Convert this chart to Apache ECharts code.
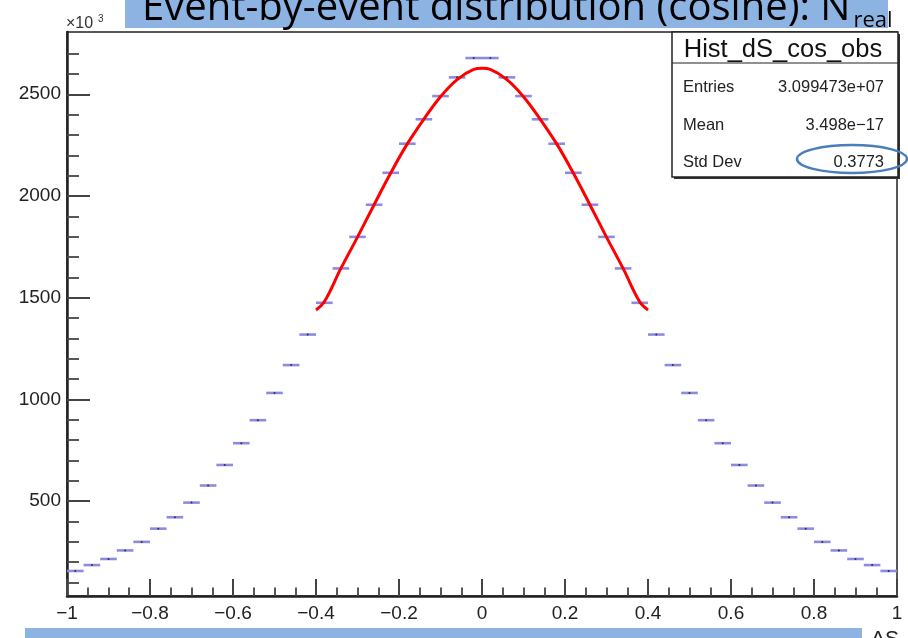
<!DOCTYPE html>
<html>
<head>
<meta charset="utf-8">
<title>Hist_dS_cos_obs</title>
<script src="https://cdn.jsdelivr.net/npm/echarts@6/dist/echarts.min.js"></script>
<style>
  html, body { margin: 0; padding: 0; background: #fff; }
  #chart { width: 908px; height: 638px; }
</style>
</head>
<body>
<div id="chart"></div>
<script>
// Histogram binning: 50 bins of width 0.04 over [-1, 1]
const binLow = -1;
const binWidth = 0.04;

// Bin contents (in units of 10^3 entries), left to right
const binValues = [
  157, 186, 216, 258, 300, 365, 421, 493, 577, 678,
  785, 898, 1032, 1169, 1319, 1475, 1644, 1799, 1957, 2114,
  2257, 2377, 2491, 2583, 2678,
  2678, 2583, 2491, 2377, 2257, 2114, 1957, 1799, 1644, 1475,
  1319, 1169, 1032, 898, 785, 678, 577, 493, 421, 365,
  300, 258, 216, 186, 157
];

// Fitted curve over [-0.4, 0.4]
const fitX = [-0.40, -0.38, -0.34, -0.30, -0.26, -0.22, -0.18, -0.14, -0.10, -0.06, -0.02, 0.00,
              0.02, 0.06, 0.10, 0.14, 0.18, 0.22, 0.26, 0.30, 0.34, 0.38, 0.40];
const fitY = [1440, 1480, 1644, 1798, 1957, 2113, 2256, 2378, 2488, 2572, 2622, 2628,
              2622, 2572, 2488, 2378, 2256, 2113, 1957, 1798, 1644, 1480, 1440];

// Axis ticks and labels
const yRange = [34, 2806];
const yMajorTicks = [500, 1000, 1500, 2000, 2500];
const yMinorTicks = [100, 200, 300, 400, 600, 700, 800, 900, 1100, 1200, 1300, 1400,
                     1600, 1700, 1800, 1900, 2100, 2200, 2300, 2400, 2600, 2700];

// Statistics box
const statsTitle = 'Hist_dS_cos_obs';
const statsLabels = ['Entries', 'Mean', 'Std Dev'];
const statsValues = ['3.099473e+07', '3.498e\u221217', '0.3773'];

const titleMain = 'Event-by-event distribution (cosine): N';
const titleSub = 'real';
const xTitle = '\u0394S';

const binData = binValues.map((v, i) => [+(binLow + (i + 0.5) * binWidth).toFixed(3), v]);
const fitData = fitX.map((x, i) => [x, fitY[i]]);

const labelFont = 'Liberation Sans, Arial, Helvetica, sans-serif';
const bannerBlue = '#8db3e2';

function measure(text, font) {
  const ctx = document.createElement('canvas').getContext('2d');
  ctx.font = font;
  return ctx.measureText(text).width;
}
const titleFontSize = 40;
const titleX = 142;
const titleW = measure(titleMain, titleFontSize + 'px "Open Sans"');

const chart = echarts.init(document.getElementById('chart'), null, { renderer: 'canvas' });

const statsLeft = 672, statsTop = 32, statsW = 226, statsH = 145;
const rowY = [87, 125, 162];

const graphics = [
  // top banner
  { type: 'rect', shape: { x: 125, y: 0, width: 763, height: 28 }, style: { fill: bannerBlue }, z: 10 },
  { type: 'text', x: titleX, y: 9, style: { text: titleMain, font: titleFontSize + 'px "Open Sans"', fill: '#000', verticalAlign: 'middle', align: 'left' }, z: 11 },
  { type: 'text', x: titleX + titleW + 3, y: 21, style: { text: titleSub, font: '22px "Open Sans"', fill: '#000', verticalAlign: 'middle', align: 'left' }, z: 11 },
  // bottom banner
  { type: 'rect', shape: { x: 25, y: 628, width: 837, height: 12 }, style: { fill: bannerBlue }, z: 10 },
  // x axis title
  { type: 'text', x: 899, y: 629, style: { text: xTitle, font: '21px ' + labelFont, fill: '#222', align: 'right', verticalAlign: 'top' }, z: 11 },
  // y axis multiplier
  { type: 'text', x: 66, y: 32, style: { text: '\u00d710', font: '16px ' + labelFont, fill: '#333', align: 'left', verticalAlign: 'bottom' }, z: 11 },
  { type: 'text', x: 98, y: 14, style: { text: '3', font: '10px ' + labelFont, fill: '#333', align: 'left', verticalAlign: 'top' }, z: 11 },
  // stats box shadow and frame
  { type: 'rect', shape: { x: statsLeft + 2, y: statsTop + 2, width: statsW, height: statsH }, style: { fill: '#333' }, z: 20 },
  { type: 'rect', shape: { x: statsLeft, y: statsTop, width: statsW, height: statsH }, style: { fill: '#fff', stroke: '#222', lineWidth: 1.5 }, z: 21 },
  { type: 'line', shape: { x1: statsLeft, y1: 63, x2: statsLeft + statsW, y2: 63 }, style: { stroke: '#222', lineWidth: 1.2 }, z: 22 },
  { type: 'text', x: statsLeft + statsW / 2 - 2, y: 50, style: { text: statsTitle, font: '25.5px ' + labelFont, fill: '#111', align: 'center', verticalAlign: 'middle' }, z: 22 },
  // highlight ring around the std dev value
  { type: 'ellipse', shape: { cx: 852, cy: 159, rx: 55, ry: 14 }, style: { fill: null, stroke: '#4a7dbb', lineWidth: 2.5 }, z: 25 }
];
statsLabels.forEach((lab, i) => {
  graphics.push({ type: 'text', x: statsLeft + 11, y: rowY[i], style: { text: lab, font: '16.5px ' + labelFont, fill: '#222', align: 'left', verticalAlign: 'middle' }, z: 22 });
  graphics.push({ type: 'text', x: statsLeft + 212, y: rowY[i], style: { text: statsValues[i], font: '16.5px ' + labelFont, fill: '#222', align: 'right', verticalAlign: 'middle' }, z: 22 });
});

const option = {
  animation: false,
  backgroundColor: '#fff',
  grid: { left: 67, right: 11, top: 32, bottom: 42, show: true, borderColor: '#222', borderWidth: 1.5, backgroundColor: 'transparent' },
  xAxis: {
    type: 'value', min: -1, max: 1, interval: 0.2,
    axisLine: { show: true, onZero: false, lineStyle: { color: '#222', width: 2.5 } },
    axisTick: { show: true, inside: true, length: 17, lineStyle: { color: '#444', width: 2 } },
    minorTick: { show: true, splitNumber: 4, length: 8.5, lineStyle: { color: '#444', width: 1.8 } },
    splitLine: { show: false },
    axisLabel: {
      margin: 8, fontSize: 19, fontFamily: labelFont, color: '#222',
      formatter: v => String(+v.toFixed(1)).replace('-', '\u2212')
    }
  },
  yAxis: [
    {
      type: 'value', min: yRange[0], max: yRange[1], position: 'left',
      axisLine: { show: true, onZero: false, lineStyle: { color: '#222', width: 2.5 } },
      axisTick: { show: true, inside: true, length: 23, customValues: yMajorTicks, lineStyle: { color: '#444', width: 2 } },
      axisLabel: { show: true, customValues: yMajorTicks, margin: 6, fontSize: 19, fontFamily: labelFont, color: '#222', formatter: v => String(v) },
      splitLine: { show: false }
    },
    {
      type: 'value', min: yRange[0], max: yRange[1], position: 'left', offset: 0,
      axisLine: { show: false, onZero: false },
      axisTick: { show: true, inside: true, length: 12, customValues: yMinorTicks, lineStyle: { color: '#444', width: 1.8 } },
      axisLabel: { show: false },
      splitLine: { show: false }
    }
  ],
  series: [
    {
      type: 'custom',
      name: 'bins',
      xAxisIndex: 0, yAxisIndex: 0,
      data: binData,
      renderItem: function (params, api) {
        const c = api.value(0), v = api.value(1);
        const p0 = api.coord([c - binWidth / 2, v]);
        const p1 = api.coord([c + binWidth / 2, v]);
        return {
          type: 'group',
          children: [
            { type: 'line', shape: { x1: p0[0], y1: p0[1], x2: p1[0], y2: p1[1] }, style: { stroke: '#8b8be3', lineWidth: 2.6 } },
            { type: 'circle', shape: { cx: (p0[0] + p1[0]) / 2, cy: p0[1], r: 1 }, style: { fill: '#333' } }
          ]
        };
      },
      z: 3
    },
    {
      type: 'line',
      name: 'fit',
      data: fitData,
      smooth: 0.4,
      showSymbol: false,
      lineStyle: { color: '#ff0000', width: 3 },
      z: 4
    }
  ],
  graphic: graphics
};
chart.setOption(option);
</script>
</body>
</html>
